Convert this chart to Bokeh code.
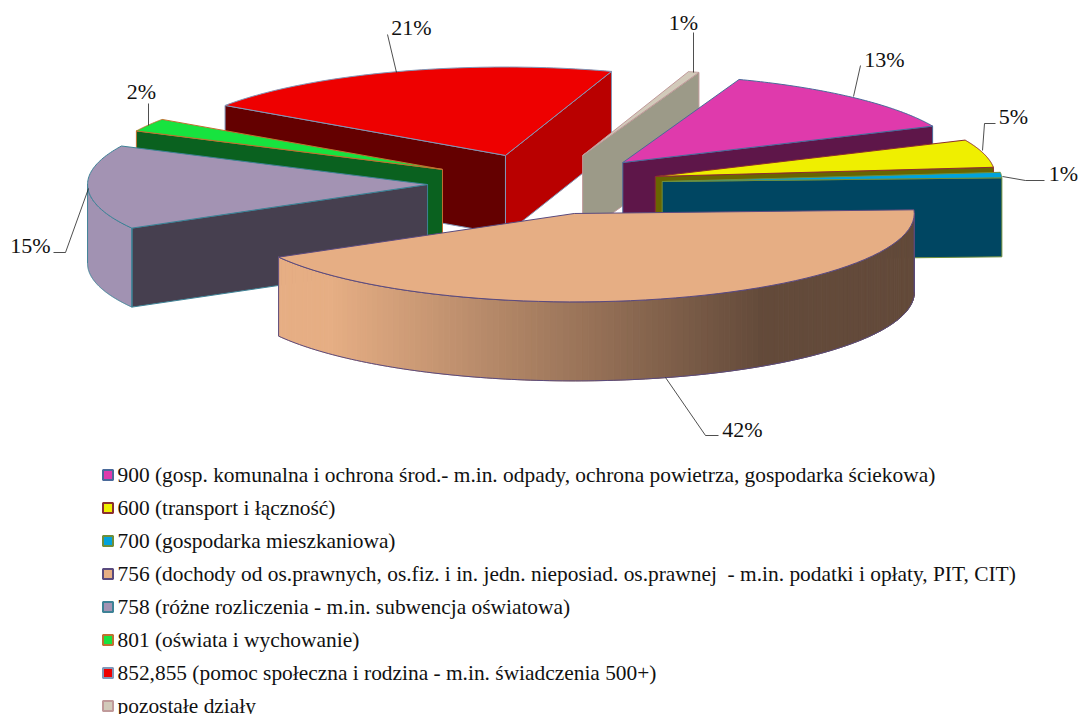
import math
import numpy as np
from bokeh.plotting import figure
from bokeh.models import Range1d
from bokeh.embed import file_html
from bokeh.resources import INLINE

# data
categories = [
    "900 (gosp. komunalna i ochrona środ.- m.in. odpady, ochrona powietrza, gospodarka ściekowa)",
    "600 (transport i łączność)",
    "700 (gospodarka mieszkaniowa)",
    "756 (dochody od os.prawnych, os.fiz. i in. jedn. nieposiad. os.prawnej \u00a0- m.in. podatki i opłaty, PIT, CIT)",
    "758 (różne rozliczenia - m.in. subwencja oświatowa)",
    "801 (oświata i wychowanie)",
    "852,855 (pomoc społeczna i rodzina - m.in. świadczenia 500+)",
    "pozostałe działy",
]
shares = [12.7, 5.1, 1.0, 42.49, 15.4, 2.4, 20.5, 0.51]
labels = ["13%", "5%", "1%", "42%", "15%", "2%", "21%", "1%"]

# styles
top_col = ["#DF3AAC", "#EFEF00", "#00A3DD", "#E6AE84", "#A393B3", "#17E33F", "#EE0000", "#D2CABA"]
face_col = ["#5E1649", "#696500", "#004662", "#634A3A", "#463F4F", "#0A611F", "#640000", "#9C9A88"]
face2_col = [None, None, None, None, None, None, "#B90000", None]
edge_col = ["#4A6A9A", "#8B2F2F", "#6F8F3B", "#5A4A7E", "#3E8296", "#C07030", "#8097B8", "#C09A9A"]
side_col = [None, None, None, None, "#A192B2", None, None, None]
explode_x = [124, 121, 124, 130, 111, 111, 103, 135]
explode_y = [110, 103, 105, 120, 116, 108, 114, 114]

R, K, DEPTH = 340.0, 0.26, 79.0
BX, BY, START = 538.0, 183.0, -70.0
draw_order = [6, 7, 0, 1, 2, 5, 4, 3]

label_xy = [(884, 59), (1013, 116), (1063, 173), (742, 429), (30, 245), (141, 91), (411, 27), (683, 22)]
leaders = [
    [(853, 96), (860, 65)],
    [(982, 150), (984, 123), (995, 123)],
    [(1002, 176), (1025, 180), (1044, 180)],
    [(665, 377), (705, 435), (718, 435)],
    [(88, 188), (65, 252), (53, 252)],
    [(148, 125), (148, 103)],
    [(396, 72), (387, 34)],
    [(693, 72), (693, 32)],
]

p = figure(width=1078, height=714, x_range=Range1d(0, 1078), y_range=Range1d(714, 0),
           output_backend="svg", toolbar_location=None, min_border=0)
p.axis.visible = False
p.grid.visible = False
p.outline_line_color = None
p.background_fill_color = "white"

total = sum(shares)
ang = [START]
for s in shares:
    ang.append(ang[-1] + s / total * 360)


def arc(cx, cy, a0, a1, n=60):
    t = np.radians(np.linspace(a0, a1, n))
    return cx + R * np.cos(t), cy + R * K * np.sin(t)


def mix(c1, c2, f):
    a = [int(c1[i:i + 2], 16) for i in (1, 3, 5)]
    b = [int(c2[i:i + 2], 16) for i in (1, 3, 5)]
    return "#%02x%02x%02x" % tuple(round(x + (y - x) * f) for x, y in zip(a, b))


for i in draw_order:
    a0, a1 = ang[i], ang[i + 1]
    mid = math.radians((a0 + a1) / 2)
    cx = BX + explode_x[i] * math.cos(mid)
    cy = BY + explode_y[i] * K * math.sin(mid)
    ax, ay = arc(cx, cy, a0, a1)
    ec = edge_col[i]
    # radial faces
    if math.cos(math.radians(a0)) < 0:
        p.patch([cx, ax[0], ax[0], cx], [cy, ay[0], ay[0] + DEPTH, cy + DEPTH],
                fill_color=face_col[i], line_color=ec)
    if math.cos(math.radians(a1)) > 0:
        p.patch([cx, ax[-1], ax[-1], cx], [cy, ay[-1], ay[-1] + DEPTH, cy + DEPTH],
                fill_color=face2_col[i] or face_col[i], line_color=ec)
    # outer side
    lo, hi = max(a0, 0), min(a1, 180)
    if hi > lo:
        sx, sy = arc(cx, cy, lo, hi, 140)
        if side_col[i] is None:
            x_lo, x_hi = sx.min(), sx.max()
            xs, ys, cs = [], [], []
            for j in range(len(sx) - 1):
                f = ((sx[j] + sx[j + 1]) / 2 - x_lo) / (x_hi - x_lo)
                f = min(1, max(0, (f - 0.08) / 0.68))
                c = mix(top_col[i], face_col[i], f)
                xs.append([sx[j], sx[j + 1], sx[j + 1], sx[j]])
                ys.append([sy[j], sy[j + 1], sy[j + 1] + DEPTH, sy[j] + DEPTH])
                cs.append(c)
            p.patches(xs, ys, fill_color=cs, line_color=cs, line_width=1)
        else:
            p.patch(list(sx) + list(sx[::-1]), list(sy) + list(sy[::-1] + DEPTH),
                    fill_color=side_col[i], line_color=None)
        p.line(list(sx[::-1]) + list(sx) + [sx[-1]],
               list(sy[::-1] + DEPTH) + list(sy) + [sy[-1] + DEPTH],
               line_color=ec, line_width=1)
        p.line([sx[0], sx[0]], [sy[0], sy[0] + DEPTH], line_color=ec, line_width=1)
    # top
    p.patch([cx] + list(ax), [cy] + list(ay), fill_color=top_col[i], line_color=ec, line_width=1)

# leaders and data labels
for pts, (lx, ly), t in zip(leaders, label_xy, labels):
    p.line([q[0] for q in pts], [q[1] for q in pts], line_color="#222222", line_width=0.8)
    p.text([lx], [ly], [t], text_font={"value": "Liberation Serif"}, text_font_size="22px",
           text_align="center", text_baseline="middle", text_color="#111111")

# legend
LEG_Y0, LEG_DY = 474.5, 33.0
for i, c in enumerate(categories):
    y = LEG_Y0 + i * LEG_DY
    p.rect([107.5], [y], width=10, height=10, fill_color=top_col[i], line_color=edge_col[i], line_width=2)
    p.text([117], [y], [c], text_font={"value": "Liberation Serif"}, text_font_size="21.4px",
           text_align="left", text_baseline="middle", text_color="#111111")

open("out.html", "w").write(file_html(p, INLINE))
